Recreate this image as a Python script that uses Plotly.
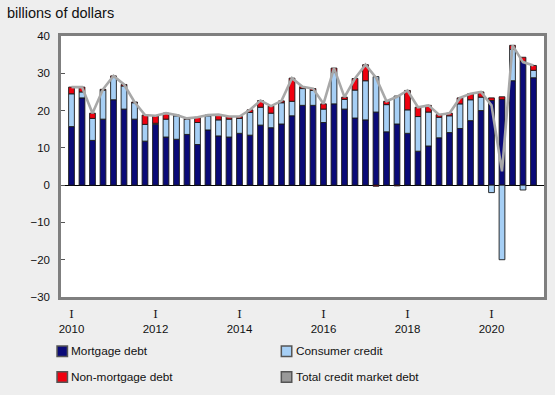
import plotly.graph_objects as go

# ---- data (billions of dollars), quarterly 2010 Q1 - 2021 Q1 ----
years = list(range(2010, 2022))
quarters = [f"{y}Q{q}" for y in years for q in (1, 2, 3, 4)][:45]

mortgage = [15.7, 23.4, 12.0, 17.7, 22.9, 20.4, 17.7, 11.8, 16.3, 12.9, 12.3,
            13.6, 10.9, 14.8, 13.2, 12.9, 13.9, 13.4, 16.1, 15.4, 16.4, 18.6, 21.4,
            21.4, 16.8, 21.8, 20.4, 18.0, 17.5, 19.6, 14.3, 16.4, 13.9, 9.1,
            10.5, 12.7, 14.1, 15.2, 17.3, 20.0, 22.7, 23.0, 28.0, 33.2, 28.8]
consumer = [8.8, 1.6, 5.9, 7.8, 6.0, 6.2, 4.4, 4.5, 0.3, 4.8, 6.3,
            4.1, 5.9, 3.8, 4.3, 4.8, 4.0, 6.1, 4.8, 3.9, 5.7, 3.9, 4.5,
            4.0, 3.6, 8.4, 2.6, 7.5, 10.5, 9.5, 7.3, 7.5, 6.3, 9.3,
            9.1, 5.5, 4.5, 6.6, 5.6, 3.6, -2.0, -20.0, 8.4, -1.3, 2.0]
non_mortgage = [1.8, 1.3, 1.4, 0.2, 0.4, 0.4, 0.2, 2.5, 2.0, 1.6, 0.2,
                0.2, 1.4, 0.2, 1.4, 0.7, 0.5, 0.7, 1.8, 1.9, 0.5, 6.2, 0.5,
                0.5, 1.4, 1.2, 0.6, 3.1, 4.3, -0.3, 0.9, -0.2, 5.2, 2.5,
                1.8, 0.7, 0.7, 1.6, 1.6, 1.4, 0.7, 0.7, 1.1, 1.1, 1.3]
total = [26.3, 26.3, 19.3, 25.7, 29.3, 27.0, 22.3, 18.8, 18.6, 19.3, 18.8,
         17.9, 18.2, 18.8, 18.9, 18.4, 18.4, 20.2, 22.7, 21.2, 22.6, 28.7, 26.4,
         25.9, 21.8, 31.4, 23.6, 28.6, 32.3, 28.8, 22.5, 23.7, 25.4, 20.9,
         21.4, 18.9, 19.3, 23.4, 24.5, 25.0, 21.4, 3.7, 37.5, 33.0, 32.1]

tick_quarters = ["2010Q1", "2012Q1", "2014Q1", "2016Q1", "2018Q1", "2020Q1"]
tick_years = ["2010", "2012", "2014", "2016", "2018", "2020"]
tick_quarter_label = "I"
y_ticks = [-30, -20, -10, 0, 10, 20, 30, 40]

series_names = ["Mortgage debt", "Consumer credit", "Non-mortgage debt", "Total credit market debt"]
colors = ["#0a0a78", "#a6cff5", "#f0000f", "#999999"]

FONT = "Liberation Sans, Arial, sans-serif"
W, H = 555, 395
L, R, T, B = 61, 547, 36, 297  # plot area in px

tick_text = [f"<span style='font-family:DejaVu Serif'>{tick_quarter_label}</span><br>{y}"
             for y in tick_years]

fig = go.Figure()
for name, vals, col in zip(series_names[:3], [mortgage, consumer, non_mortgage], colors[:3]):
    fig.add_trace(go.Bar(x=quarters, y=vals, name=name, marker_color=col,
                         marker_line_color="#1a1a1a", marker_line_width=0.9,
                         showlegend=False))
fig.add_trace(go.Scatter(x=quarters, y=total, name=series_names[3], mode="lines",
                         line=dict(color="#a8a8a8", width=2.6), showlegend=False))

def px_x(x):
    return (x - L) / (R - L)

def px_y(y):
    return (B - y) / (B - T)

shapes = []
annotations = []
legend_pos = [(57, 346), (282.7, 346), (57, 371.7), (282.7, 371.7)]
for (x0, y0), i in zip(legend_pos, range(4)):
    shapes.append(dict(type="rect", xref="paper", yref="paper",
                       x0=px_x(x0), x1=px_x(x0 + 10.5), y0=px_y(y0), y1=px_y(y0 + 10.5),
                       fillcolor=colors[i], line=dict(color="#555555", width=1.5)))
    annotations.append(dict(xref="paper", yref="paper", x=px_x(x0 + 12.5), y=px_y(y0 + 5.3),
                            xanchor="left", yanchor="middle", showarrow=False,
                            text=series_names[i], font=dict(family=FONT, size=11.8, color="#111111")))

annotations.append(dict(xref="paper", yref="paper", x=px_x(5), y=px_y(13),
                        xanchor="left", yanchor="middle", showarrow=False,
                        text="billions of dollars", font=dict(family=FONT, size=14.5, color="#111111")))

fig.update_layout(
    width=W, height=H,
    margin=dict(l=L, r=W - R, t=T, b=H - B, pad=0),
    paper_bgcolor="#eeeeee", plot_bgcolor="#ffffff",
    barmode="relative", bargap=0.45,
    font=dict(family=FONT, size=11.5, color="#111111"),
    shapes=shapes, annotations=annotations,
    xaxis=dict(type="category", range=[-1, 45], tickmode="array",
               tickvals=tick_quarters, ticktext=tick_text, ticks="",
               ticklabelstandoff=4,
               showgrid=False, showline=True, mirror=True, linecolor="#7f7f7f",
               linewidth=2.5, tickfont=dict(family=FONT, size=11.5, color="#111111")),
    yaxis=dict(range=[-30, 40], tickmode="array", tickvals=y_ticks,
               ticks="inside", ticklen=4, tickcolor="#555555", tickwidth=1,
               showgrid=False, showline=True, mirror=True, linecolor="#7f7f7f",
               linewidth=2.5, zeroline=True, zerolinecolor="#000000", zerolinewidth=1,
               ticklabelstandoff=6,
               tickfont=dict(family=FONT, size=11.5, color="#111111")),
)

fig.write_html("out.html", config={"displayModeBar": False},
               post_script="document.body.style.margin='0px';document.body.style.background='#eeeeee';")
